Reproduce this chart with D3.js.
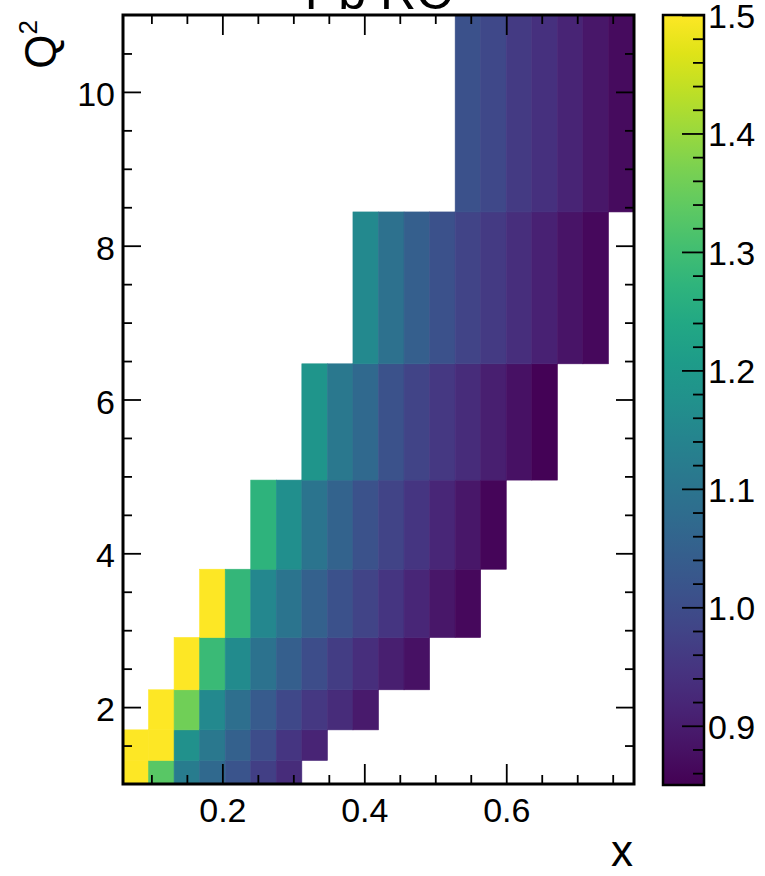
<!DOCTYPE html>
<html>
<head>
<meta charset="utf-8">
<script src="https://cdn.jsdelivr.net/npm/d3@7"></script>
<style>
  body { margin: 0; background: #fff; }
  svg { display: block; font-family: "Liberation Sans", Arial, Helvetica, sans-serif; }
  .tick text { font-size: 34px; fill: #000; }
</style>
</head>
<body>
<script>
var w = 765, h = 876;

// bin edges
var xEdges = [0.06, 0.096, 0.132, 0.168, 0.204, 0.24, 0.276, 0.312, 0.348, 0.384, 0.42,
              0.456, 0.492, 0.528, 0.564, 0.6, 0.636, 0.672, 0.708, 0.744, 0.78];
var q2Edges = [1, 1.306, 1.704, 2.225, 2.905, 3.793, 4.952, 6.464, 8.439, 11];

// first filled x bin of each Q2 row (bottom to top)
var rowStart = [0, 0, 1, 2, 3, 5, 7, 9, 13];
// ratio values, one array per Q2 row
var ratioRows = [
    [1.55, 1.33, 1.12, 1.07, 1.02, 0.97, 0.93],
    [1.55, 1.55, 1.175, 1.11, 1.05, 1.0, 0.95, 0.915],
    [1.55, 1.36, 1.155, 1.085, 1.035, 0.99, 0.955, 0.93, 0.895],
    [1.52, 1.29, 1.16, 1.095, 1.045, 1.0, 0.965, 0.935, 0.905, 0.88],
    [1.51, 1.28, 1.15, 1.1, 1.05, 1.01, 0.98, 0.95, 0.92, 0.89, 0.865],
    [1.27, 1.17, 1.1, 1.055, 1.015, 0.98, 0.95, 0.92, 0.89, 0.86],
    [1.19, 1.11, 1.07, 1.015, 0.98, 0.955, 0.93, 0.905, 0.88, 0.855],
    [1.155, 1.09, 1.045, 1.01, 0.98, 0.96, 0.935, 0.91, 0.885, 0.865],
    [1.01, 0.99, 0.96, 0.94, 0.915, 0.89, 0.87]
];

var xMajor = [0.2, 0.4, 0.6];
var xMinor = [0.1, 0.15, 0.25, 0.3, 0.35, 0.45, 0.5, 0.55, 0.65, 0.7, 0.75];
var yMajor = [2, 4, 6, 8, 10];
var yMinor = [1.5, 2.5, 3, 3.5, 4.5, 5, 5.5, 6.5, 7, 7.5, 8.5, 9, 9.5, 10.5];
var zMajor = [0.9, 1.0, 1.1, 1.2, 1.3, 1.4, 1.5];
var zMinor = [0.86, 0.88, 0.92, 0.94, 0.96, 0.98, 1.02, 1.04, 1.06, 1.08, 1.12, 1.14, 1.16, 1.18,
              1.22, 1.24, 1.26, 1.28, 1.32, 1.34, 1.36, 1.38, 1.42, 1.44, 1.46, 1.48];
var zRange = [0.85, 1.5];

var plot = {left: 123, right: 634, top: 15, bottom: 784};
var cbar = {left: 663, right: 704};

var x = d3.scaleLinear().domain([xEdges[0], xEdges[xEdges.length - 1]]).range([plot.left, plot.right]);
var y = d3.scaleLinear().domain([q2Edges[0], q2Edges[q2Edges.length - 1]]).range([plot.bottom, plot.top]);
var z = d3.scaleLinear().domain(zRange).range([plot.bottom + 1, plot.top]);
var color = d3.scaleSequential(d3.interpolateViridis).domain(zRange).clamp(true);

var svg = d3.select("body").append("svg")
    .attr("width", w)
    .attr("height", h);

// flatten rows into cells
var cells = [];
ratioRows.forEach(function(row, r){
    row.forEach(function(v, j){
        var i = rowStart[r] + j;
        cells.push({x0: xEdges[i], x1: xEdges[i + 1], y0: q2Edges[r], y1: q2Edges[r + 1], v: v});
    });
});

svg.append("g").selectAll("rect")
    .data(cells)
    .enter()
    .append("rect")
    .attr("x", function(d){ return x(d.x0); })
    .attr("y", function(d){ return y(d.y1); })
    .attr("width", function(d){ return x(d.x1) - x(d.x0); })
    .attr("height", function(d){ return y(d.y0) - y(d.y1); })
    .style("fill", function(d){ return color(d.v); })
    .style("stroke", function(d){ return color(d.v); })
    .style("stroke-width", 0.6);

// axes, ticks pointing inward on every side
function styleAxis(g){
    g.select(".domain").remove();
    g.selectAll(".tick line").attr("stroke", "#000").attr("stroke-width", 1.8);
}

svg.append("g").attr("transform", "translate(0," + plot.bottom + ")")
    .call(d3.axisBottom(x).tickValues(xMajor).tickSize(-20).tickPadding(14).tickFormat(d3.format(".1f")))
    .call(styleAxis);
svg.append("g").attr("transform", "translate(0," + plot.bottom + ")")
    .call(d3.axisBottom(x).tickValues(xMinor).tickSize(-9).tickFormat(""))
    .call(styleAxis);
svg.append("g").attr("transform", "translate(0," + plot.top + ")")
    .call(d3.axisTop(x).tickValues(xMajor).tickSize(-20).tickFormat(""))
    .call(styleAxis);
svg.append("g").attr("transform", "translate(0," + plot.top + ")")
    .call(d3.axisTop(x).tickValues(xMinor).tickSize(-9).tickFormat(""))
    .call(styleAxis);

svg.append("g").attr("transform", "translate(" + plot.left + ",0)")
    .call(d3.axisLeft(y).tickValues(yMajor).tickSize(-18).tickPadding(8).tickFormat(d3.format("d")))
    .call(styleAxis)
    .selectAll(".tick text").attr("dy", "0.4em");
svg.append("g").attr("transform", "translate(" + plot.left + ",0)")
    .call(d3.axisLeft(y).tickValues(yMinor).tickSize(-9).tickFormat(""))
    .call(styleAxis);
svg.append("g").attr("transform", "translate(" + plot.right + ",0)")
    .call(d3.axisRight(y).tickValues(yMajor).tickSize(-18).tickFormat(""))
    .call(styleAxis);
svg.append("g").attr("transform", "translate(" + plot.right + ",0)")
    .call(d3.axisRight(y).tickValues(yMinor).tickSize(-9).tickFormat(""))
    .call(styleAxis);

// frame
svg.append("rect")
    .attr("x", plot.left)
    .attr("y", plot.top)
    .attr("width", plot.right - plot.left)
    .attr("height", plot.bottom - plot.top)
    .style("fill", "none")
    .style("stroke", "#000")
    .style("stroke-width", 3);

// colour bar
var grad = svg.append("defs").append("linearGradient")
    .attr("id", "viridis")
    .attr("x1", 0).attr("y1", 1).attr("x2", 0).attr("y2", 0);
grad.selectAll("stop")
    .data(d3.range(0, 1.0001, 0.05))
    .enter()
    .append("stop")
    .attr("offset", function(d){ return d; })
    .attr("stop-color", function(d){ return d3.interpolateViridis(d); });

svg.append("rect")
    .attr("x", cbar.left)
    .attr("y", z(zRange[1]))
    .attr("width", cbar.right - cbar.left)
    .attr("height", z(zRange[0]) - z(zRange[1]))
    .style("fill", "url(#viridis)");

svg.append("g").attr("transform", "translate(" + cbar.right + ",0)")
    .call(d3.axisRight(z).tickValues(zMajor).tickSize(-22).tickPadding(4).tickFormat(d3.format(".1f")))
    .call(styleAxis)
    .selectAll(".tick text").attr("dy", "0.36em");
svg.append("g").attr("transform", "translate(" + cbar.right + ",0)")
    .call(d3.axisRight(z).tickValues(zMinor).tickSize(-11).tickFormat(""))
    .call(styleAxis);

svg.append("rect")
    .attr("x", cbar.left)
    .attr("y", z(zRange[1]))
    .attr("width", cbar.right - cbar.left)
    .attr("height", z(zRange[0]) - z(zRange[1]))
    .style("fill", "none")
    .style("stroke", "#000")
    .style("stroke-width", 2.5);

// labels
svg.append("text")
    .attr("x", (plot.left + plot.right) / 2)
    .attr("y", 9)
    .attr("text-anchor", "middle")
    .style("font-size", "50px")
    .text("Pb RC");

svg.append("text")
    .attr("x", plot.right - 1)
    .attr("y", 866)
    .attr("text-anchor", "end")
    .style("font-size", "44px")
    .text("x");

var ylab = svg.append("text")
    .attr("transform", "translate(56,20) rotate(-90)")
    .attr("text-anchor", "end")
    .style("font-size", "44px");
ylab.append("tspan").text("Q");
ylab.append("tspan").attr("dy", -19).style("font-size", "26px").text("2");
</script>
</body>
</html>
